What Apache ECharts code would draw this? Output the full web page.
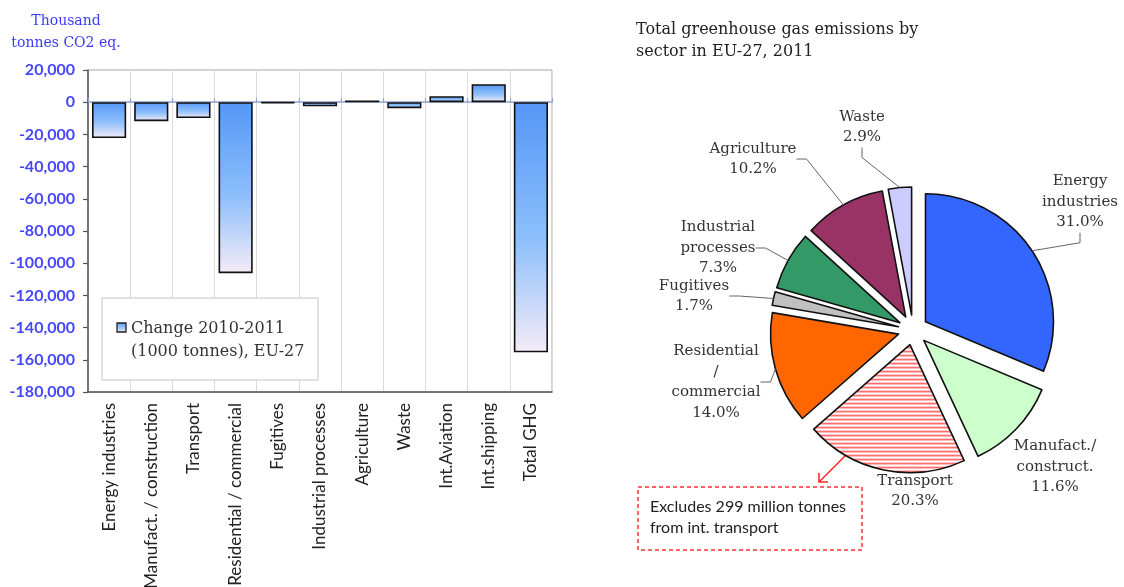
<!DOCTYPE html>
<html>
<head>
<meta charset="utf-8">
<script src="https://cdn.jsdelivr.net/npm/echarts@6/dist/echarts.min.js"></script>
<style>
  html, body { margin: 0; padding: 0; background: #fff; }
  #chart { width: 1124px; height: 587px; }
</style>
</head>
<body>
<div id="chart"></div>
<script>
// Change in emissions 2010-2011, thousand tonnes CO2 eq.
const sectors = ['Energy industries', 'Manufact. / construction', 'Transport',
  'Residential / commercial', 'Fugitives', 'Industrial processes', 'Agriculture',
  'Waste', 'Int.Aviation', 'Int.shipping', 'Total GHG'];
const change = [-22300, -11800, -9800, -106200, -500, -2500, 1000, -3700, 3700, 11200, -155300];

// y axis ticks
const yMin = -180000;
const yMax = 20000;
const yStep = 20000;

// Share of total emissions by sector in 2011 (%)
const pieNames = ['Energy\nindustries', 'Manufact./\nconstruct.', 'Transport',
  'Residential\n/\ncommercial', 'Fugitives', 'Industrial\nprocesses', 'Agriculture', 'Waste'];
const pieShares = [31.0, 11.6, 20.3, 14.0, 1.7, 7.3, 10.2, 2.9];

const SERIF = '"DejaVu Serif", "Liberation Serif", serif';
const SANS = 'Lato, "Open Sans", sans-serif';

// hatched fill for the transport slice
const hatch = document.createElement('canvas');
hatch.width = 4; hatch.height = 4;
(function () {
  const c = hatch.getContext('2d');
  c.fillStyle = '#ffffff'; c.fillRect(0, 0, 4, 4);
  c.fillStyle = '#ff5a5a'; c.fillRect(0, 0, 4, 1.6);
})();

const pieColors = ['#3366ff', '#ccffcc', { image: hatch, repeat: 'repeat' }, '#ff6600',
  '#c0c0c0', '#339966', '#993366', '#ccccff'];

// pie geometry
const PIE_CENTER = [913, 330];
const PIE_R = 128;
const EXPLODE = 15;

// label centres around the pie
const labelPos = [[1080, 202], [1055, 467], [915, 491], [716, 382],
  [694, 296], [718, 248], [753, 159], [862, 127]];
const showLeader = [true, false, false, true, true, true, true, true];

const barGradient = new echarts.graphic.LinearGradient(0, 0, 0, 1, [
  { offset: 0, color: '#5597f7' },
  { offset: 0.55, color: '#8dbffb' },
  { offset: 1, color: '#f5ebf7' }
]);

const chart = echarts.init(document.getElementById('chart'), null, { renderer: 'canvas' });

const pieLabelFmt = p => p.name + '\n' + p.value.toFixed(1) + '%';

const option = {
  animation: false,
  backgroundColor: '#ffffff',
  grid: {
    left: 88, right: 572, top: 70, bottom: 195,
    containLabel: false, outerBoundsMode: 'none',
    show: true, borderColor: '#a8a8a8', borderWidth: 1, backgroundColor: 'transparent'
  },
  xAxis: [
    {
      type: 'category', data: sectors, gridIndex: 0,
      axisLine: { onZero: false, lineStyle: { color: '#555', width: 1.5 } },
      axisTick: { show: false },
      splitLine: { show: true, interval: 0, lineStyle: { color: '#dadada', width: 1 } },
      axisLabel: {
        interval: 0, rotate: 90, margin: 11, color: '#222',
        fontFamily: SANS, fontSize: 17
      }
    },
    {
      type: 'category', data: sectors, gridIndex: 0, position: 'bottom',
      axisLine: { onZero: true, lineStyle: { color: '#8fa3d0', width: 1.5 } },
      axisTick: { show: true, interval: 0, length: 4, inside: true, lineStyle: { color: '#8fa3d0', width: 1.2 } },
      axisLabel: { show: false },
      splitLine: { show: false }
    }
  ],
  yAxis: {
    type: 'value', min: yMin, max: yMax, interval: yStep,
    axisLine: { show: true, lineStyle: { color: '#555', width: 1.5 } },
    axisTick: { show: true, length: 5, lineStyle: { color: '#555', width: 1.2 } },
    splitLine: { show: false },
    axisLabel: {
      color: '#4646ff', fontFamily: SANS, fontSize: 16, fontWeight: 'bold', margin: 13,
      formatter: v => (v < 0 ? '-' : '') + Math.abs(v).toLocaleString('en-US')
    }
  },
  series: [
    {
      name: 'Change 2010-2011 (1000 tonnes), EU-27',
      type: 'bar', xAxisIndex: 0, yAxisIndex: 0,
      data: change,
      barCategoryGap: '19%',
      itemStyle: { color: barGradient, borderColor: '#111', borderWidth: 1.6 },
      emphasis: { disabled: true }
    },
    // exploded pie slices
    {
      name: 'Total greenhouse gas emissions by sector in EU-27, 2011',
      type: 'pie',
      center: PIE_CENTER,
      radius: PIE_R,
      startAngle: 90,
      clockwise: true,
      selectedMode: 'multiple',
      selectedOffset: EXPLODE,
      data: pieNames.map((n, i) => ({
        name: n, value: pieShares[i], selected: true,
        itemStyle: { color: pieColors[i] }
      })),
      itemStyle: { borderColor: '#111', borderWidth: 1.6 },
      select: { itemStyle: { borderColor: '#111', borderWidth: 1.6 } },
      emphasis: { disabled: true },
      label: { show: false },
      labelLine: { show: false }
    },
    // labels of the slices, laid out around the outer edge
    {
      type: 'pie',
      center: PIE_CENTER,
      radius: PIE_R + EXPLODE,
      startAngle: 90,
      clockwise: true,
      silent: true,
      z: 3,
      data: pieNames.map((n, i) => ({
        name: n, value: pieShares[i],
        labelLine: { show: showLeader[i] }
      })),
      itemStyle: { color: 'rgba(0,0,0,0)', borderWidth: 0 },
      emphasis: { disabled: true },
      avoidLabelOverlap: false,
      label: {
        show: true, position: 'outside', color: '#333',
        fontFamily: SERIF, fontSize: 15, lineHeight: 20.5, align: 'center',
        formatter: pieLabelFmt
      },
      labelLine: { show: true, length: 10, length2: 10, lineStyle: { color: '#666', width: 1 } },
      labelLayout: function (params) {
        const p = labelPos[params.dataIndex];
        return { x: p[0], y: p[1], align: 'center', verticalAlign: 'middle' };
      }
    }
  ],
  graphic: [
    // unit label above the bar chart
    {
      type: 'text', x: 66, y: 10,
      style: {
        text: 'Thousand\ntonnes CO2 eq.', fill: '#3a3aff', font: '14px ' + SERIF,
        lineHeight: 22, align: 'center', textAlign: 'center'
      }
    },
    // legend box
    {
      type: 'rect', shape: { x: 102, y: 298, width: 216, height: 82 },
      style: { fill: '#fff', stroke: '#c4c4c4', lineWidth: 1 }, z: 10
    },
    {
      type: 'rect', shape: { x: 117, y: 323, width: 9, height: 9 },
      style: {
        fill: new echarts.graphic.LinearGradient(0, 0, 0, 1, [
          { offset: 0, color: '#5597f7' }, { offset: 1, color: '#e8eefc' }]),
        stroke: '#222', lineWidth: 1.3
      }, z: 11
    },
    {
      type: 'text', x: 131, y: 317, z: 11,
      style: {
        text: 'Change 2010-2011\n(1000 tonnes), EU-27', fill: '#333',
        font: '16px ' + SERIF, lineHeight: 23
      }
    },
    // pie title
    {
      type: 'text', x: 636, y: 19,
      style: {
        text: 'Total greenhouse gas emissions by\nsector in EU-27, 2011', fill: '#222',
        font: '16px ' + SERIF, lineHeight: 22
      }
    },
    // note on international transport
    {
      type: 'rect', shape: { x: 638, y: 487, width: 224, height: 63 },
      style: { fill: 'none', stroke: '#ff3030', lineWidth: 1.5, lineDash: [4, 3] }
    },
    {
      type: 'text', x: 650, y: 496,
      style: {
        text: 'Excludes 299 million tonnes\nfrom int. transport', fill: '#222',
        font: '16px ' + SANS, lineHeight: 21
      }
    },
    {
      type: 'line', shape: { x1: 819, y1: 482, x2: 851, y2: 450 },
      style: { stroke: '#ff2a2a', lineWidth: 1.6 }
    },
    {
      type: 'polyline', shape: { points: [[819, 473], [819, 482], [828, 482]] },
      style: { stroke: '#ff2a2a', lineWidth: 1.6, fill: 'none' }
    },
    {
      type: 'polyline', shape: { points: [[842, 450], [851, 450], [851, 459]] },
      style: { stroke: '#ff2a2a', lineWidth: 1.6, fill: 'none' }
    }
  ]
};

chart.setOption(option);
</script>
</body>
</html>
